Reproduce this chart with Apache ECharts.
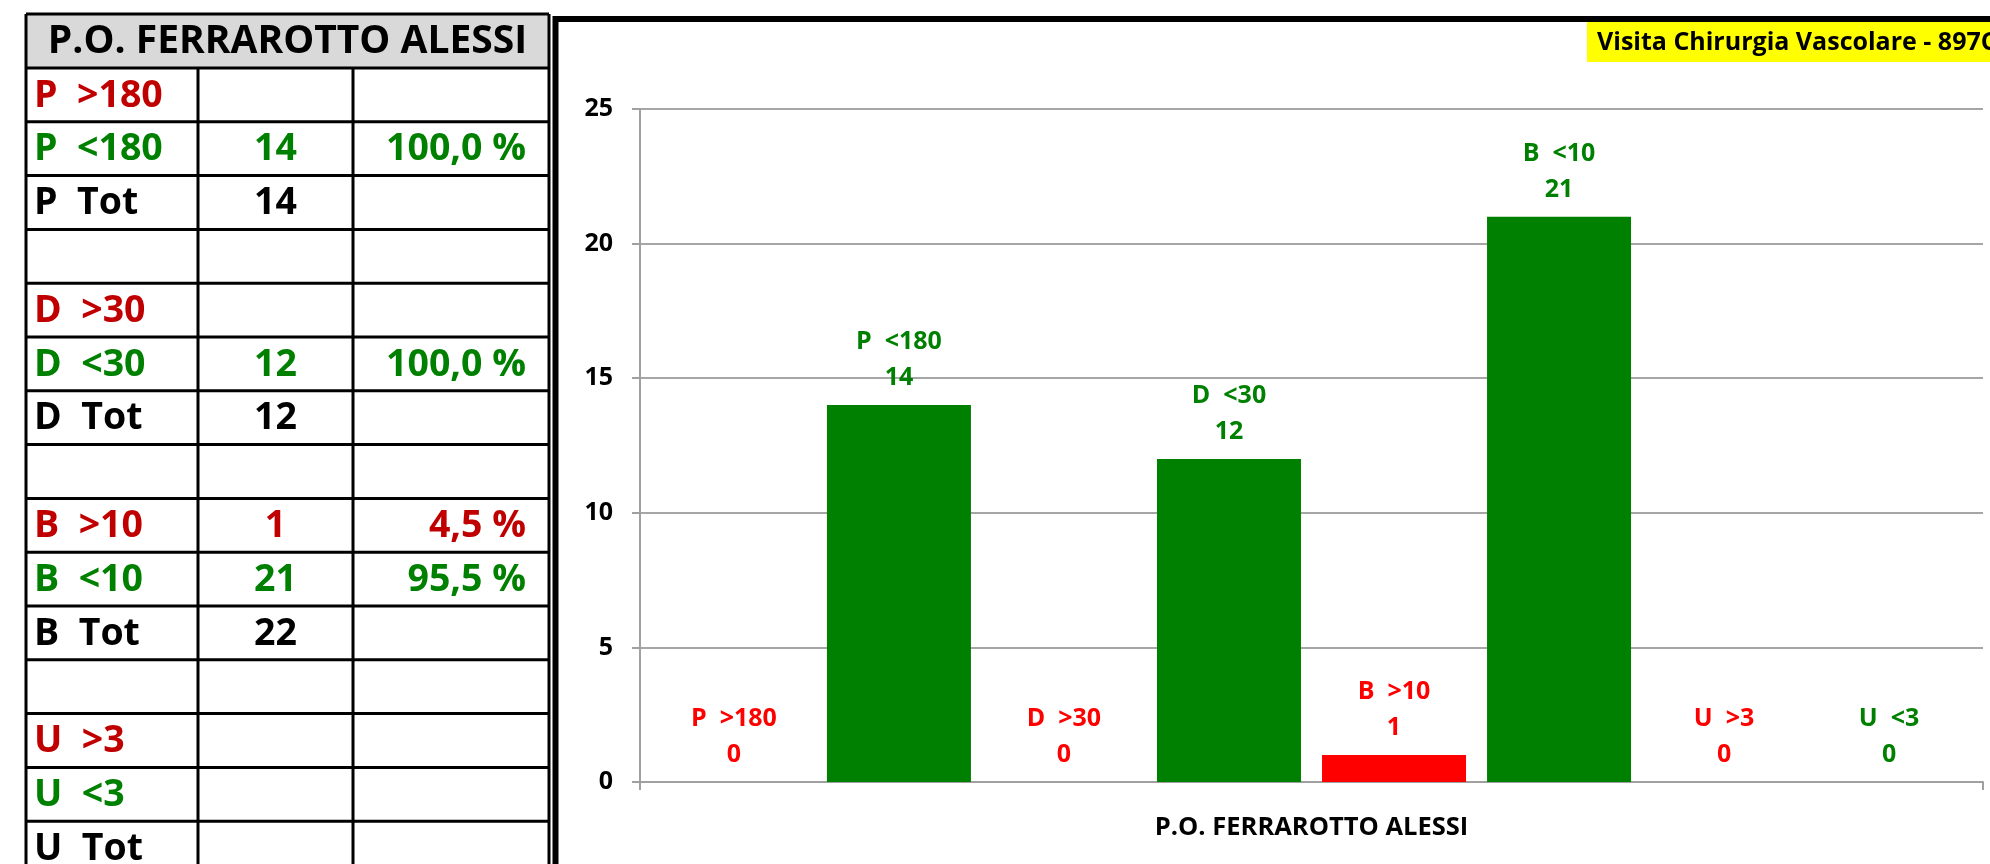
<!DOCTYPE html>
<html>
<head>
<meta charset="utf-8">
<script src="https://cdn.jsdelivr.net/npm/echarts@6/dist/echarts.min.js"></script>
<style>
html,body{margin:0;padding:0;background:#fff;}
#chart{width:1990px;height:864px;}
</style>
</head>
<body>
<div id="chart"></div>
<script>
// ---- data ----
const tableTitle = 'P.O. FERRAROTTO ALESSI';
const tableLabels = ['P  >180','P  <180','P  Tot','','D  >30','D  <30','D  Tot','','B  >10','B  <10','B  Tot','','U  >3','U  <3','U  Tot'];
const tableCounts = ['','14','14','','','12','12','','1','21','22','','','',''];
const tablePercents = ['','100,0 %','','','','100,0 %','','','4,5 %','95,5 %','','','','',''];

const chartCategory = ['P.O. FERRAROTTO ALESSI'];
const barNames = ['P  >180','P  <180','D  >30','D  <30','B  >10','B  <10','U  >3','U  <3'];
const barValues = [0,14,0,12,1,21,0,0];
const yTicks = {min:0, max:25, interval:5};
const chartTitle = 'Visita Chirurgia Vascolare - 897CV';

// ---- styling helpers ----
const FONT = '"Open Sans", "Noto Sans", sans-serif';
function tableColor(lbl){ return lbl.indexOf('>')>=0 ? '#C00000' : (lbl.indexOf('<')>=0 ? '#008000' : '#000000'); }
function barColor(lbl){ return lbl.indexOf('>')>=0 ? '#FF0000' : '#008000'; }

// ---- table graphic ----
const tX = 26, tY = 14, colW = [172, 155, 196], headH = 54, rowH = 53.8;
const tR = tX + colW[0] + colW[1] + colW[2];
const c1 = tX + colW[0], c2 = c1 + colW[1];
const graphics = [];
graphics.push({type:'rect', shape:{x:tX, y:tY, width:tR-tX, height:headH}, style:{fill:'#D9D9D9'}, z:1});
graphics.push({type:'text', style:{x:(tX+tR)/2, y:tY+headH/2+1, text:tableTitle, fill:'#000', font:'bold 39px '+FONT, textAlign:'center', textVerticalAlign:'middle'}, z:3});
const bottom = tY + headH + rowH*tableLabels.length;
const lineStyle = {stroke:'#000', lineWidth:3};
graphics.push({type:'line', shape:{x1:tX, y1:tY, x2:tR, y2:tY}, style:lineStyle, z:2});
for (let i=0;i<=tableLabels.length;i++){
  const y = tY + headH + rowH*i;
  graphics.push({type:'line', shape:{x1:tX, y1:y, x2:tR, y2:y}, style:lineStyle, z:2});
}
graphics.push({type:'line', shape:{x1:tX, y1:tY, x2:tX, y2:bottom}, style:lineStyle, z:2});
graphics.push({type:'line', shape:{x1:tR, y1:tY, x2:tR, y2:bottom}, style:lineStyle, z:2});
graphics.push({type:'line', shape:{x1:c1, y1:tY+headH, x2:c1, y2:bottom}, style:lineStyle, z:2});
graphics.push({type:'line', shape:{x1:c2, y1:tY+headH, x2:c2, y2:bottom}, style:lineStyle, z:2});
tableLabels.forEach((lbl,i)=>{
  const cy = tY + headH + rowH*i + rowH/2 + 1;
  const col = tableColor(lbl);
  if (lbl) graphics.push({type:'text', style:{x:tX+8, y:cy, text:lbl, fill:col, font:'bold 37.5px '+FONT, textAlign:'left', textVerticalAlign:'middle'}, z:3});
  if (tableCounts[i]) graphics.push({type:'text', style:{x:(c1+c2)/2, y:cy, text:tableCounts[i], fill:col, font:'bold 37.5px '+FONT, textAlign:'center', textVerticalAlign:'middle'}, z:3});
  if (tablePercents[i]) graphics.push({type:'text', style:{x:tR-23, y:cy, text:tablePercents[i], fill:col, font:'bold 37.5px '+FONT, textAlign:'right', textVerticalAlign:'middle'}, z:3});
});

// chart frame
graphics.push({type:'rect', shape:{x:555.5, y:19, width:2000, height:1000}, style:{fill:'none', stroke:'#000', lineWidth:6}, z:2});
// yellow title
graphics.push({type:'rect', shape:{x:1587, y:22, width:420, height:40}, style:{fill:'#FFFF00'}, z:3});
graphics.push({type:'text', style:{x:1597, y:43, text:chartTitle, fill:'#000', font:'bold 25px '+FONT, textAlign:'left', textVerticalAlign:'middle'}, z:4});

// ---- series ----
const series = barNames.map((name,i)=>({
  name:name,
  type:'bar',
  data:[barValues[i]],
  barWidth:144,
  barGap:'14.6%',
  itemStyle:{color:barColor(name)},
  label:{show:true, position:'top', distance:9, formatter:'{a}\n{c}', fontFamily:FONT, fontWeight:'bold', fontSize:25, lineHeight:36, color:barColor(name)},
  emphasis:{disabled:true},
  animation:false
}));

const chart = echarts.init(document.getElementById('chart'), null, {renderer:'canvas'});
chart.setOption({
  backgroundColor:'#ffffff',
  animation:false,
  grid:{left:640, right:7, top:109, bottom:82, containLabel:false},
  xAxis:{
    type:'category', data:chartCategory,
    axisLine:{show:true, lineStyle:{color:'#A0A0A0', width:2}},
    axisTick:{show:true, length:8, lineStyle:{color:'#A0A0A0', width:2}},
    axisLabel:{margin:33, fontFamily:FONT, fontWeight:'bold', fontSize:25.5, color:'#000'},
    splitLine:{show:false}
  },
  yAxis:{
    type:'value', min:yTicks.min, max:yTicks.max, interval:yTicks.interval,
    axisLine:{show:true, lineStyle:{color:'#A0A0A0', width:2}},
    axisTick:{show:true, length:8, lineStyle:{color:'#A0A0A0', width:2}},
    axisLabel:{margin:27, fontFamily:FONT, fontWeight:'bold', fontSize:25, color:'#000'},
    splitLine:{show:true, lineStyle:{color:'#A6A6A6', width:2}}
  },
  series:series,
  graphic:graphics
});
</script>
</body>
</html>
